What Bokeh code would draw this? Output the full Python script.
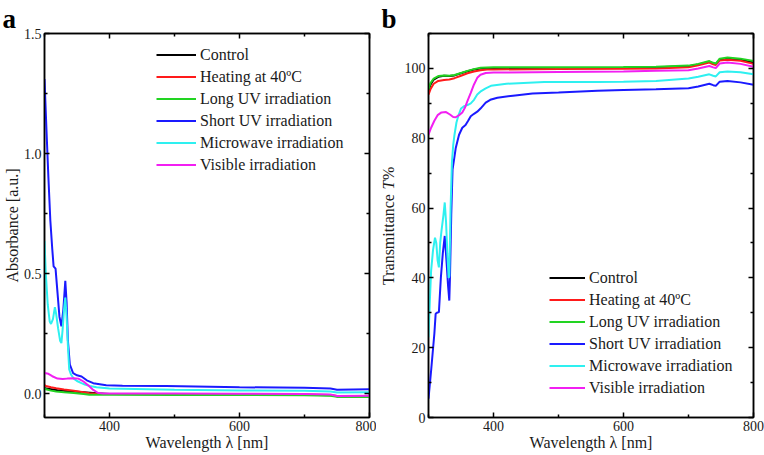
import math
from bokeh.plotting import figure
from bokeh.models import (FixedTicker, LinearAxis, Range1d, Label, Title,
                          PrintfTickFormatter, CustomLabelingPolicy)
from bokeh.layouts import row
from bokeh.embed import file_html
from bokeh.resources import INLINE

# ---------------- data: panel a (absorbance) ----------------
series_names = ["Control", "Heating at 40\u00baC", "Long UV irradiation",
                "Short UV irradiation", "Microwave irradiation", "Visible irradiation"]
series_colors = ["#000000", "#ff1a1a", "#22d422", "#1a1aff", "#2ef0f0", "#f21ff2"]

ctrl_a_wl = [300, 310, 320, 340, 360, 380, 400, 500, 600, 700, 740, 750, 800]
ctrl_a = [0.022, 0.018, 0.014, 0.009, 0.005, 0.001, -0.002, -0.003, -0.004, -0.005, -0.007, -0.012, -0.013]

heat_a_wl = [300, 302, 310, 318, 330, 345, 360, 369, 380, 400, 500, 600, 700, 740, 750, 800]
heat_a = [0.035, 0.031, 0.026, 0.022, 0.017, 0.011, 0.005, 0.001, -0.001, -0.002, -0.002, -0.003, -0.004, -0.006, -0.010, -0.011]

long_a_wl = [300, 302, 310, 318, 330, 345, 360, 369, 380, 400, 500, 600, 700, 740, 750, 800]
long_a = [0.022, 0.018, 0.012, 0.008, 0.005, 0.002, -0.002, -0.005, -0.005, -0.005, -0.006, -0.006, -0.007, -0.009, -0.014, -0.015]

short_a_wl = [300, 303, 306, 309, 312, 314, 317, 320, 323, 326, 329, 332, 334, 336, 339,
              344, 350, 357, 365, 375, 395, 420, 487, 600, 700, 740, 750, 800]
short_a = [1.31, 1.10, 0.90, 0.72, 0.60, 0.53, 0.52, 0.42, 0.32, 0.28, 0.35, 0.47, 0.38, 0.22, 0.12,
           0.085, 0.076, 0.071, 0.055, 0.043, 0.034, 0.032, 0.031, 0.026, 0.024, 0.021, 0.016, 0.018]

micro_a_wl = [300, 302, 305, 308, 310, 313, 316, 318, 321, 324, 326, 328, 330, 332, 334, 336, 338,
              341, 345, 350, 356, 362, 370, 380, 400, 500, 600, 700, 740, 750, 800]
micro_a = [0.635, 0.50, 0.37, 0.30, 0.29, 0.31, 0.36, 0.33, 0.27, 0.22, 0.21, 0.27, 0.35, 0.40, 0.32, 0.20, 0.10,
           0.078, 0.062, 0.052, 0.044, 0.037, 0.031, 0.026, 0.021, 0.016, 0.013, 0.011, 0.008, 0.004, 0.005]

vis_a_wl = [300, 306, 312, 320, 328, 335, 345, 352, 360, 368, 375, 382, 390, 400, 500, 600, 700, 740, 750, 800]
vis_a = [0.085, 0.082, 0.072, 0.062, 0.060, 0.062, 0.064, 0.062, 0.050, 0.032, 0.015, 0.003, 0.0, 0.0,
         0.0, -0.001, -0.002, -0.004, -0.010, -0.009]

# ---------------- data: panel b (transmittance) ----------------
ctrl_b_wl = [300, 303, 308, 315, 324, 332, 340, 350, 360, 370, 380, 400, 500, 600, 650, 700,
             715, 732, 738, 742, 748, 760, 780, 800]
ctrl_b = [93.5, 95.3, 96.8, 97.6, 97.9, 97.8, 98.0, 98.6, 99.2, 99.7, 100.0, 100.1, 100.1, 100.2, 100.3, 100.6,
          101.1, 101.9, 101.4, 101.2, 102.6, 102.8, 102.5, 101.7]

heat_b_wl = [300, 303, 308, 315, 324, 332, 340, 350, 360, 370, 380, 390, 400, 500, 600, 650, 700,
             715, 732, 738, 742, 748, 760, 780, 800]
heat_b = [92.5, 94.0, 95.6, 96.4, 96.7, 96.8, 97.2, 97.9, 98.6, 99.1, 99.5, 99.7, 99.7, 99.8, 99.9, 100.0, 100.3,
          100.9, 101.7, 101.2, 101.0, 102.3, 102.5, 102.2, 101.3]

long_b_wl = [300, 303, 308, 315, 324, 332, 340, 350, 360, 370, 380, 400, 500, 600, 650, 700,
             715, 732, 738, 742, 748, 760, 780, 800]
long_b = [94.0, 95.8, 97.1, 97.8, 98.0, 97.9, 98.1, 98.7, 99.3, 99.8, 100.2, 100.3, 100.3, 100.4, 100.5, 100.8,
          101.3, 102.1, 101.6, 101.4, 102.8, 103.1, 102.8, 102.1]

short_b_wl = [300, 304, 309, 311, 313, 316, 319, 322, 325, 328, 330, 332, 333, 335, 337, 342, 347,
              352, 357, 361, 365, 370, 375, 380, 388, 395, 406, 430, 460, 500, 560, 600, 650, 700,
              715, 732, 738, 742, 748, 760, 780, 800]
short_b = [5.4, 13.4, 24.0, 29.7, 30.0, 30.2, 40.0, 47.0, 52.0, 44.0, 38.0, 33.5, 40.0, 58.0, 71.0, 77.3, 81.0,
           83.0, 83.8, 85.0, 86.3, 87.0, 87.6, 88.5, 90.2, 91.0, 91.6, 92.2, 92.8, 93.1, 93.6, 93.8, 94.0, 94.3,
           94.8, 95.6, 95.2, 95.0, 96.2, 96.4, 96.0, 95.3]

micro_b_wl = [300, 302, 304, 307, 310, 312, 314, 316, 318, 320, 323, 325, 327, 329, 331, 332, 334, 336,
              338, 340, 343, 346, 350, 355, 360, 365, 370, 375, 381, 388, 396, 420, 478, 560, 600, 650,
              700, 715, 732, 738, 742, 748, 760, 780, 800]
micro_b = [23.0, 33.0, 42.0, 48.0, 51.5, 50.0, 45.0, 43.0, 50.0, 53.5, 58.0, 61.6, 56.0, 47.0, 40.0, 40.5, 60.0, 73.0,
           78.0, 81.0, 84.5, 86.5, 88.5, 89.2, 89.5, 90.0, 91.0, 92.5, 93.5, 94.3, 95.0, 95.6, 96.1, 96.1, 96.2, 96.4,
           97.1, 97.6, 98.3, 97.9, 97.7, 98.9, 99.1, 98.9, 98.3]

vis_b_wl = [300, 304, 309, 314, 320, 327, 333, 338, 342, 347, 352, 356, 360, 365, 370, 375, 380, 388,
            400, 500, 600, 650, 700, 715, 732, 738, 742, 748, 760, 780, 800]
vis_b = [81.0, 83.0, 85.0, 86.6, 87.4, 87.5, 86.8, 86.1, 86.0, 86.6, 87.4, 88.7, 90.7, 93.0, 95.4, 97.3, 98.2, 98.7,
         98.8, 99.0, 99.1, 99.3, 99.5, 100.0, 100.7, 100.3, 100.1, 101.4, 101.7, 101.3, 100.5]

x_major = [400, 600, 800]
x_minor = [300, 500, 700]
a_major = [0.0, 0.5, 1.0, 1.5]
a_minor = [-0.25, 0.25, 0.75, 1.25]
b_major = [0, 20, 40, 60, 80, 100]
b_minor = [10, 30, 50, 70, 90, 110]

panel_letters = ["a", "b"]
b_ylabel_parts = ["Transmittance", "T", "%"]
b_ylabel_styles = ["normal", "italic", "normal"]

FONT = "Liberation Serif"
TXT = "#1a1a1a"
PANEL_H = 455
FRAME_TOP = 33
FRAME_BOTTOM = 417


def style_axis(ax, show_labels=True):
    ax.axis_line_color = "black"
    ax.axis_line_width = 1.5
    ax.major_tick_in = 5
    ax.major_tick_out = 0
    ax.minor_tick_in = 3
    ax.minor_tick_out = 0
    ax.major_tick_line_width = 1.5
    ax.minor_tick_line_width = 1.5
    ax.major_tick_line_color = "black"
    ax.minor_tick_line_color = "black"
    if show_labels:
        ax.major_label_text_font = FONT
        ax.major_label_text_font_size = "14px"
        ax.major_label_text_color = TXT
        ax.major_label_standoff = 3
        ax.axis_label_text_font = FONT
        ax.axis_label_text_font_size = "16px"
        ax.axis_label_text_font_style = "normal"
        ax.axis_label_text_color = TXT
        ax.axis_label_standoff = 0
    else:
        ax.major_label_text_font_size = "0px"
        ax.major_label_standoff = 0
        ax.major_label_policy = CustomLabelingPolicy(
            code="const all = [...indices]; for (const i of all) indices.unset(i); return indices")
        ax.axis_label = None


def letter_title(letter, offset):
    return Title(text=letter, align="left", offset=offset, standoff=0,
                 text_font=FONT, text_font_size="27px", text_font_style="bold",
                 text_color="black", text_line_height=1.0)


def make_fig(width, yr, ymaj, ymin, yfmt, left_border, right_border, title=None):
    p = figure(width=width, height=PANEL_H, x_range=Range1d(300, 800), y_range=Range1d(*yr),
               output_backend="svg", toolbar_location=None, title=title,
               min_border_left=left_border, min_border_right=right_border,
               min_border_top=FRAME_TOP, min_border_bottom=PANEL_H - FRAME_BOTTOM)
    p.grid.visible = False
    p.outline_line_color = "black"
    p.outline_line_width = 1.5
    p.outline_line_alpha = 1
    p.background_fill_color = "white"
    p.border_fill_color = "white"
    xt = FixedTicker(ticks=x_major, minor_ticks=x_minor)
    yt = FixedTicker(ticks=ymaj, minor_ticks=ymin)
    bx = p.xaxis[0]
    ly = p.yaxis[0]
    bx.ticker = xt
    ly.ticker = yt
    ly.formatter = PrintfTickFormatter(format=yfmt)
    style_axis(bx)
    style_axis(ly)
    top = LinearAxis(ticker=xt)
    right = LinearAxis(ticker=yt)
    style_axis(top, False)
    style_axis(right, False)
    p.add_layout(top, "above")
    p.add_layout(right, "right")
    return p, bx, ly


def style_legend(p, loc, gw):
    lg = p.legend[0]
    lg.location = loc
    lg.padding = 0
    lg.spacing = 1
    lg.margin = 0
    lg.glyph_width = gw
    lg.glyph_height = 21
    lg.label_height = 21
    lg.label_standoff = 4
    lg.label_text_font = FONT
    lg.label_text_font_size = "16px"
    lg.label_text_color = TXT
    lg.background_fill_alpha = 0
    lg.border_line_color = None


# ---------------- panel a ----------------
pa, pa_x, pa_y = make_fig(376, (-0.1, 1.5), a_major, a_minor, "%.1f", 44, 7,
                          title=letter_title(panel_letters[0], -42))
pa_x.axis_label = "Wavelength \u03bb [nm]"
pa_y.axis_label = "Absorbance [a.u.]"
a_sets = [(ctrl_a_wl, ctrl_a), (heat_a_wl, heat_a), (long_a_wl, long_a),
          (short_a_wl, short_a), (micro_a_wl, micro_a), (vis_a_wl, vis_a)]
for (wl, v), name, col in zip(a_sets, series_names, series_colors):
    pa.line(wl, v, line_color=col, line_width=2, legend_label=name)
style_legend(pa, (112, 242), 40)

# ---------------- strip left of panel b: letter "b" and y title with italic T ----------------
# its frame is aligned with the panels' frames, so y data == page pixel row
ylab = figure(width=22, height=PANEL_H, x_range=Range1d(0, 22),
              y_range=Range1d(FRAME_BOTTOM, FRAME_TOP),
              output_backend="svg", toolbar_location=None, x_axis_type=None, y_axis_type=None,
              title=letter_title(panel_letters[1], 5), min_border=0, min_border_left=0,
              min_border_right=0, min_border_top=FRAME_TOP, min_border_bottom=PANEL_H - FRAME_BOTTOM)
ylab.grid.visible = False
ylab.outline_line_color = None
ylab.background_fill_color = "white"
ylab.border_fill_color = "white"
ylab_widths = [95.5, 9.5, 13.3]
y_start = 284.5
pos = y_start
for txt, st, w in zip(b_ylabel_parts, b_ylabel_styles, ylab_widths):
    ylab.add_layout(Label(x=12, y=pos, text=txt, angle=math.pi / 2, text_font=FONT,
                          text_font_size="16px", text_font_style=st, text_align="left",
                          text_baseline="middle", text_color=TXT))
    pos -= w

# ---------------- panel b ----------------
pb, pb_x, pb_y = make_fig(366, (0, 110), b_major, b_minor, "%d", 30, 11)
pb_x.axis_label = "Wavelength \u03bb [nm]"
b_sets = [(ctrl_b_wl, ctrl_b), (heat_b_wl, heat_b), (long_b_wl, long_b),
          (short_b_wl, short_b), (micro_b_wl, micro_b), (vis_b_wl, vis_b)]
for (wl, v), name, col in zip(b_sets, series_names, series_colors):
    pb.line(wl, v, line_color=col, line_width=2, legend_label=name)
style_legend(pb, (121, 19), 36)

layout = row(pa, ylab, pb)
open("out.html", "w").write(file_html(layout, INLINE))
